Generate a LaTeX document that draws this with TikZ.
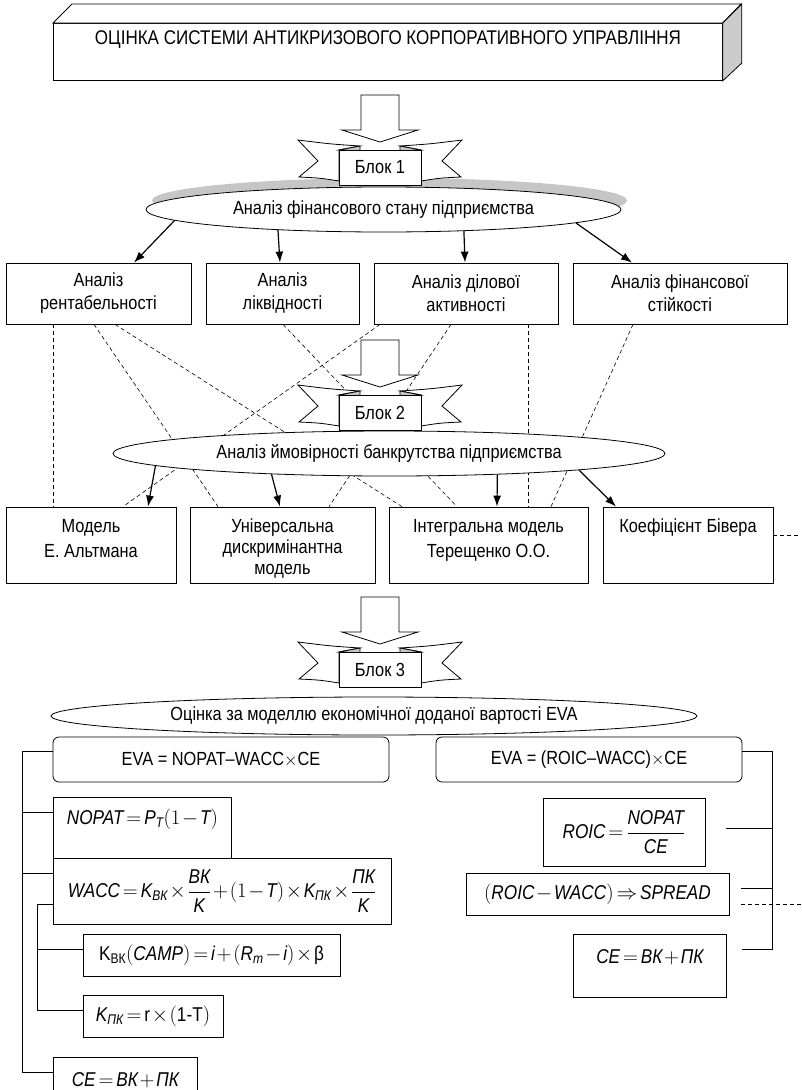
\documentclass[tikz,border=0pt]{standalone}
\usepackage{amsmath}
\usepackage{fontspec}
\setmainfont{Liberation Sans}[FakeStretch=0.86]
\usetikzlibrary{arrows.meta,shapes.geometric}
\newcommand{\vi}[1]{\textit{#1}}
\newcommand{\fms}{\medmuskip=1.5mu\relax\thickmuskip=2.5mu\relax}
\newcommand{\lines}[1]{\begin{tabular}[t]{@{}c@{}}#1\end{tabular}}
\newcommand{\blokribbon}[3]{%
  \draw[ln, fill=white] (361,#2-55) -- (399,#2-55) -- (399,#2-20) -- (418,#2-20) -- (380,#2-8) -- (342,#2-20) -- (361,#2-20) -- cycle;
  \draw[ln, fill=white] (360,#2-4) .. controls (330,#2-6) .. (298,#2-10) -- (318,#2+11) -- (299,#2+27) .. controls (320,#2+28) .. (339,#2+31) -- (339,#2) -- cycle;
  \draw[ln, fill=white] (400,#2-4) .. controls (430,#2-6) .. (462,#2-10) -- (442,#2+11) -- (461,#2+27) .. controls (440,#2+28) .. (421,#2+31) -- (421,#2) -- cycle;
  \draw[ln, fill=gray!45] (339,#2) -- (360,#2-4) -- (360,#2+1) -- cycle;
  \draw[ln, fill=gray!45] (421,#2) -- (400,#2-4) -- (400,#2+1) -- cycle;
  \node[bx, minimum width=82, minimum height=35] (#1) at (380,#2+17.5) {#3};
}
\begin{document}
\begin{tikzpicture}[x=1pt,y=-1pt,
  every node/.style={font=\fontsize{19}{24}\selectfont},
  ln/.style={line width=0.8pt},
  bx/.style={draw, line width=0.8pt, fill=white, inner sep=0pt, align=center},
  el/.style={ellipse, draw, line width=0.8pt, fill=white, inner sep=0pt},
  arr/.style={line width=1.2pt, -{Latex[length=11pt,width=8pt]}},
  dsh/.style={line width=0.6pt, dash pattern=on 4pt off 3pt},
  fm/.style={font=\fontsize{20}{24}\selectfont},
  two/.style={font=\fontsize{19}{23}\selectfont},
  mbox/.style={bx, minimum height=76, text height=25, text depth=51}]
\useasboundingbox (0,0) rectangle (801,1090);

% ---------- title ----------
\node[bx, anchor=north west, minimum width=669, text height=21, text depth=36, font=\fontsize{19.8}{24}\selectfont] (title) at (53,23) {ОЦІНКА СИСТЕМИ АНТИКРИЗОВОГО КОРПОРАТИВНОГО УПРАВЛІННЯ};
\draw[ln, fill=white] (title.north west) -- ++(19,-19) -- ++(669,0) -- (title.north east) -- cycle;
\draw[ln, fill=gray!40] (title.north east) -- ++(19,-19) -- ++(0,59) -- (title.south east) -- cycle;

% ---------- block 1 ----------
\node[ellipse, fill=gray!45, inner sep=0pt, minimum width=475, minimum height=45] (e1s) at (389.5,200.5) {};
\node[el, minimum width=475, minimum height=45] (e1) at (383.5,209.5) {Аналіз фінансового стану підприємства};
\blokribbon{blok1}{150}{Блок 1}

\node[bx, two, minimum width=185, minimum height=61] (b1) at (98.5,293.5) {Аналіз\\рентабельності};
\node[bx, two, minimum width=153, minimum height=61] (b2) at (282.5,293.5) {Аналіз\\ліквідності};
\node[bx, two, minimum width=184, minimum height=61] (b3) at (466,293.5) {Аналіз ділової\\активності};
\node[bx, two, minimum width=214, minimum height=61] (b4) at (680,293.5) {Аналіз фінансової\\стійкості};

\draw[arr] (e1.183.03) -- ([xshift=35.5pt]b1.north);
\draw[arr] (e1.191.1) -- ([xshift=-2.5pt]b2.north);
\draw[arr] (e1.345.5) -- ([xshift=-1pt]b3.north);
\draw[arr] (e1.356.9) -- ([xshift=-48pt]b4.north);

% ---------- block 2 ----------
\node[mbox, minimum width=170, font=\fontsize{19}{25}\selectfont] (m1) at (91,545) {\lines{Модель\\Е. Альтмана}};
\node[mbox, minimum width=185, font=\fontsize{19}{21}\selectfont] (m2) at (282.5,545) {\lines{Універсальна\\дискримінантна\\модель}};
\node[mbox, minimum width=199, font=\fontsize{19}{25}\selectfont] (m3) at (488.5,545) {\lines{Інтегральна модель\\Терещенко О.О.}};
\node[mbox, minimum width=170] (m4) at (688,545) {Коефіцієнт Бівера};

\draw[dsh] ([xshift=-45.5pt]b1.south) -- ([xshift=-38pt]m1.north);
\draw[dsh] ([xshift=-4.5pt]b1.south) -- ([xshift=-64.5pt]m2.north);
\draw[dsh] ([xshift=16.5pt]b1.south) -- ([xshift=-86.5pt]m3.north);
\draw[dsh] ([xshift=0.5pt]b2.south) -- ([xshift=-31.5pt]m3.north);
\draw[dsh] ([xshift=-86pt]b3.south) -- ([xshift=32pt]m1.north);
\draw[dsh] ([xshift=-15pt]b3.south) -- ([xshift=46.5pt]m2.north);
\draw[dsh] ([xshift=62pt]b3.south) -- ([xshift=39.5pt]m3.north);
\draw[dsh] ([xshift=-47pt]b4.south) -- ([xshift=62.5pt]m3.north);
\coordinate (bvend) at (801,535);
\draw[dsh] (m4.east |- bvend) -- (bvend);

\node[el, minimum width=552, minimum height=45] (e2) at (389,453.5) {Аналіз ймовірності банкрутства підприємства};
\blokribbon{blok2}{395}{Блок 2}

\draw[arr] (e2.183.8) -- ([xshift=57pt]m1.north);
\draw[arr] (e2.190.75) -- ([xshift=-2.5pt]m2.north);
\draw[arr] (e2.349.15) -- ([xshift=8.5pt]m3.north);
\draw[arr] (e2.355.5) -- ([xshift=-72pt]m4.north);

% ---------- block 3 ----------
\node[el, minimum width=646, minimum height=38] (e3) at (374,716) {Оцінка за моделлю економічної доданої вартості EVA};
\blokribbon{blok3}{652}{Блок 3}

\node[bx, rounded corners=6pt, minimum width=336, minimum height=45] (eva1) at (221,759.5) {EVA = NOPAT–WACC$\times$CE};
\node[bx, rounded corners=6pt, minimum width=306, minimum height=45] (eva2) at (589,759.5) {EVA = (ROIC–WACC)$\times$CE};

% left tree
\coordinate (L0) at (22,751);
\coordinate (L1) at (22,812);
\coordinate (L2) at (22,873);
\coordinate (L3) at (22,1072);
\coordinate (I0) at (37,904);
\coordinate (I1) at (37,949);
\coordinate (I2) at (37,1010);

\node[bx, fm, anchor=north west, minimum width=178, text height=27, text depth=46] (nopat) at (53,797) {$\fms\vi{NOPAT}=\vi{P}_{\vi{T}}(1-\vi{T})$};
\node[bx, fm, minimum width=338, minimum height=66] (wacc) at (222,891) {$\fms\vi{WACC}=\vi{K}_{\vi{ВК}}\times\dfrac{\vi{ВК}}{\vi{K}}+(1-\vi{T})\times\vi{K}_{\vi{ПК}}\times\dfrac{\vi{ПК}}{\vi{K}}$};
\node[bx, fm, minimum width=257, minimum height=42] (kvk) at (211.5,955) {$\fms\text{K}_{\text{ВК}}(\vi{CAMP})=\vi{i}+(\vi{R}_{\vi{m}}-\vi{i})\times\text{β}$};
\node[bx, fm, minimum width=140, minimum height=42] (kpk) at (153,1016) {$\fms\vi{K}_{\vi{ПК}}=\text{r}\times(\text{1-T})$};
\node[bx, fm, anchor=north west, minimum width=144, text height=29, text depth=25] (ce1) at (53,1057) {$\fms\vi{CE}=\vi{ВК}+\vi{ПК}$};

\draw[ln] (eva1.west |- L0) -- (L0) -- (L3) -- (ce1.west |- L3);
\draw[ln] (L1) -- (nopat.west |- L1);
\draw[ln] (L2) -- (wacc.west |- L2);
\draw[ln] (wacc.west |- I0) -- (I0) -- (I2) -- (kpk.west |- I2);
\draw[ln] (I1) -- (kvk.west |- I1);

% right tree
\node[bx, fm, minimum width=162, minimum height=68] (roic) at (624,832) {$\fms\vi{ROIC}=\dfrac{\vi{NOPAT}}{\vi{CE}}$};
\node[bx, fm, minimum width=263, minimum height=42] (spread) at (597.5,894) {$\fms(\vi{ROIC}-\vi{WACC})\Rightarrow\vi{SPREAD}$};
\node[bx, fm, anchor=north west, minimum width=153, text height=29, text depth=34] (ce2) at (573,934) {$\fms\vi{CE}=\vi{ВК}+\vi{ПК}$};

\coordinate (R0) at (772,751);
\coordinate (R1) at (772,828);
\coordinate (R2) at (772,888);
\coordinate (R3) at (772,949);
\coordinate (Q1) at (726,828);
\coordinate (Q2) at (741,888);
\coordinate (Q3) at (742,949);
\coordinate (D0) at (741,904);
\coordinate (D1) at (801,904);
\draw[ln] (eva2.east |- R0) -- (R0) -- (R3) -- (Q3);
\draw[ln] (Q1) -- (R1);
\draw[ln] (Q2) -- (R2);
\draw[dsh] (D0) -- (D1);
\end{tikzpicture}
\end{document}
